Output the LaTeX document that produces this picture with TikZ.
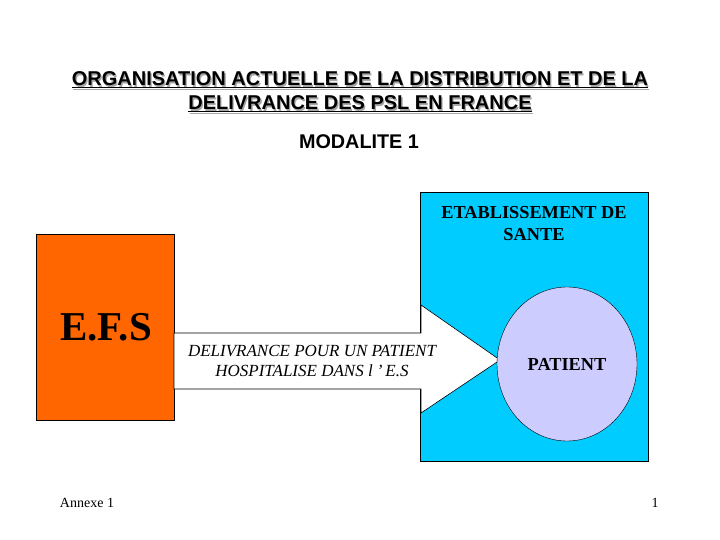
\documentclass[tikz,border=0pt]{standalone}
\usepackage{fontspec}
\setmainfont{Liberation Serif}
\setsansfont{Liberation Sans}
\usetikzlibrary{shapes.geometric}
\definecolor{efsorange}{HTML}{FF6600}
\definecolor{esblue}{HTML}{00CCFF}
\definecolor{patlav}{HTML}{CCCCFF}
\begin{document}
\begin{tikzpicture}[x=1pt,y=-1pt,
  box/.style={draw=black,line width=0.6pt},
  titletext/.style={font=\sffamily\bfseries\fontsize{20}{24}\selectfont,align=center},
  lbl/.style={font=\bfseries\fontsize{18.3}{22}\selectfont,align=center}]
\useasboundingbox (0,0) rectangle (720,540);
% title with shadow
\node[titletext,text=gray!70] at (361.3,93.3) {\underline{ORGANISATION ACTUELLE DE LA DISTRIBUTION ET DE LA}\\\underline{DELIVRANCE DES PSL EN FRANCE}};
\node[titletext] (title) at (360,92) {\underline{ORGANISATION ACTUELLE DE LA DISTRIBUTION ET DE LA}\\\underline{DELIVRANCE DES PSL EN FRANCE}};
\node[font=\sffamily\bfseries\fontsize{19.8}{22}\selectfont] (modalite) at (359,142) {MODALITE 1};
% boxes
\node[box,fill=esblue,minimum width=228pt,minimum height=269pt,inner sep=0pt] (es) at (534,326.5) {};
\node[box,fill=efsorange,minimum width=138pt,minimum height=186pt,inner sep=0pt] (efs) at (105,327) {};
\node[font=\bfseries\fontsize{41}{44}\selectfont] (efslbl) at (106,327) {E.F.S};
\node[lbl] (eslbl) at (534,224) {ETABLISSEMENT DE\\SANTE};
% arrow
\draw[box,fill=white,line join=miter] (174,333) -- (421,333) -- (421,305) -- (500,360) -- (421,413) -- (421,389) -- (174,389) -- cycle;
\node[font=\itshape\fontsize{17}{20}\selectfont,align=center] (arrowlbl) at (312,361) {DELIVRANCE POUR UN PATIENT\\HOSPITALISE DANS l '\,E.S};
% patient
\node[draw=black,line width=0.4pt,fill=patlav,ellipse,minimum width=140pt,minimum height=154pt,inner sep=0pt] (patient) at (567,364) {};
\node[lbl] at (patient.center) {PATIENT};
% footer
\node[font=\fontsize{14}{16}\selectfont] (annexe) at (87,503) {Annexe 1};
\node[font=\fontsize{14}{16}\selectfont] (page) at (655,503) {1};
\end{tikzpicture}
\end{document}
